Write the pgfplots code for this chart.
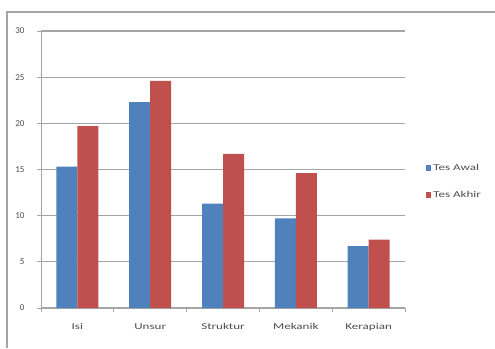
\documentclass[border=0pt]{standalone}
\usepackage{pgfplots}
\pgfplotsset{compat=1.18}
\usepackage{fontspec}
\setmainfont{Carlito}
\newfontfamily\widefont[FakeStretch=1.45]{Carlito}
\definecolor{blu}{RGB}{79,129,189}
\definecolor{rd}{RGB}{192,80,77}
\definecolor{gr}{RGB}{165,165,165}
\begin{document}
\begin{tikzpicture}
\useasboundingbox (0,0) rectangle (495pt,348pt);
\draw[gr, line width=1.2pt] (7pt,0pt) -- (7pt,336pt) -- (495pt,336pt);
\begin{axis}[
  at={(41pt,40pt)}, anchor=south west,
  scale only axis, width=364pt, height=277pt,
  ybar=0pt, bar width=21pt,
  xmin=-0.5, xmax=4.5, ymin=0, ymax=30,
  xtick=data, xticklabels={Isi,Unsur,Struktur,Mekanik,Kerapian},
  minor xtick={-0.5,0.5,1.5,2.5,3.5,4.5},
  major x tick style={draw=none},
  minor x tick style={gr, line width=0.8pt},
  ytick={0,5,...,30},
  axis lines*=left,
  axis line style={gr, line width=0.8pt},
  tick align=outside,
  major tick length=4pt, minor tick length=4pt,
  y tick style={gr, line width=0.8pt},
  ymajorgrids, grid style={gr, line width=1.1pt},
  tick label style={text=black!70},
  yticklabel style={font=\fontsize{9}{10}\selectfont, xshift=-9pt},
  xticklabel style={font=\widefont\fontsize{9}{10}\selectfont, yshift=-8pt},
  /pgf/number format/assume math mode=true,
  legend style={at={(1.05,0.455)}, anchor=west, draw=none, fill=none,
    font=\widefont\fontsize{9}{10}\selectfont, text=black!70, row sep=15pt,
    legend cell align=left},
  legend image code/.code={\fill[#1] (0pt,-2.5pt) rectangle (5pt,3.5pt);},
]
\addplot[fill=blu, draw=none] coordinates {(0,15.3) (1,22.3) (2,11.3) (3,9.7) (4,6.7)};
\addplot[fill=rd, draw=none] coordinates {(0,19.7) (1,24.6) (2,16.7) (3,14.6) (4,7.4)};
\legend{Tes Awal,Tes Akhir}
\end{axis}
\end{tikzpicture}
\end{document}
